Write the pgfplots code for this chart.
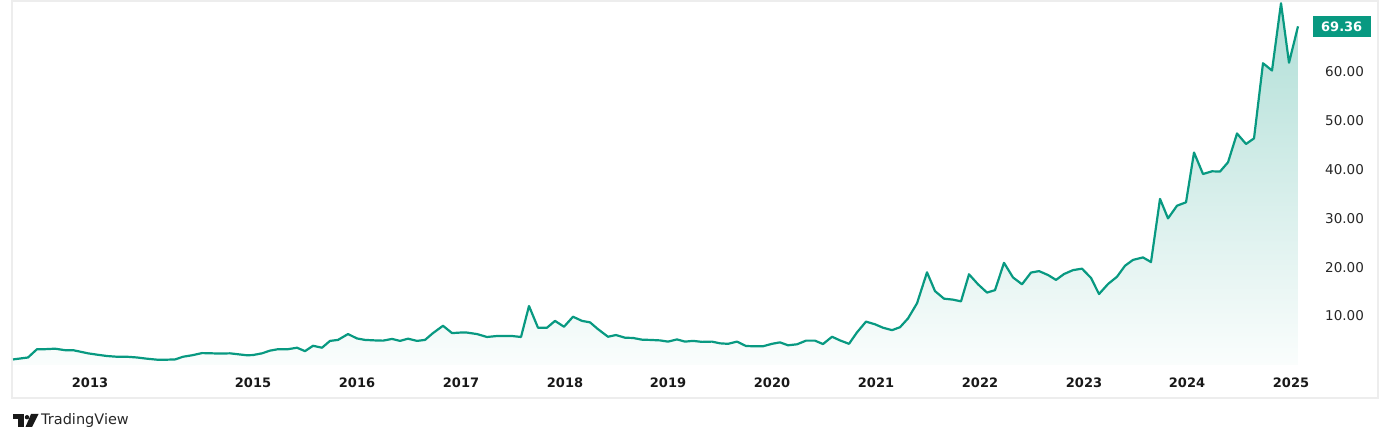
\documentclass[border=0pt]{standalone}
\usepackage{pgfplots}
\usepackage{pgfplotstable}
\pgfplotsset{compat=1.18}
\usepackage{fontspec}
\setmainfont{DejaVu Sans}
\definecolor{tvgreen}{HTML}{089981}
\definecolor{framegray}{HTML}{EDEDED}

\pgfplotstableread{
x y
13 1.1
28 1.5
37 3.2
45 3.2
55 3.3
65 3.0
73 3.0
80 2.7
88 2.35
98 2.05
107 1.8
117 1.65
127 1.65
137 1.5
147 1.25
157 1.05
167 1.05
175 1.1
183 1.65
192 1.95
202 2.4
212 2.35
220 2.3
230 2.35
247 1.95
253 2.0
262 2.35
270 2.9
278 3.2
288 3.2
297 3.5
305 2.8
313 3.9
322 3.5
330 4.9
338 5.1
348 6.3
357 5.4
365 5.1
375 5.0
383 4.95
392 5.3
400 4.9
408 5.35
417 4.9
425 5.1
433 6.5
443 8.0
452 6.5
460 6.6
467 6.6
477 6.3
487 5.7
497 5.9
512 5.9
521 5.7
529 12.05
538 7.6
547 7.6
555 9.0
564 7.8
573 9.85
582 9.0
590 8.7
598 7.3
608 5.75
616 6.1
625 5.55
633 5.5
642 5.15
650 5.1
660 5.0
668 4.75
677 5.2
685 4.75
693 4.9
702 4.7
712 4.75
720 4.4
728 4.3
737 4.75
746 3.85
754 3.8
763 3.8
772 4.3
780 4.6
788 4.0
797 4.2
806 4.95
815 4.95
823 4.25
832 5.75
840 5.0
849 4.3
857 6.65
866 8.85
875 8.3
883 7.6
892 7.1
900 7.7
908 9.5
917 12.6
927 18.95
935 15.1
944 13.55
953 13.35
961 13.0
969 18.55
978 16.5
987 14.8
995 15.3
1004 20.9
1013 17.9
1022 16.5
1031 18.9
1039 19.2
1048 18.4
1056 17.4
1064 18.6
1073 19.4
1082 19.7
1091 17.8
1099 14.5
1108 16.55
1117 18.05
1125 20.3
1133 21.5
1143 22.0
1151 21.05
1160 34.0
1168 30.0
1177 32.6
1186 33.3
1194 43.5
1203 39.1
1212 39.65
1220 39.6
1228 41.5
1237 47.4
1246 45.25
1254 46.4
1263 61.8
1272 60.3
1281 74.1
1289 61.9
1298 69.36
}\pricedata

\begin{document}
\begin{tikzpicture}[x=1pt,y=1pt]
\useasboundingbox (0,0) rectangle (1391,444);
\draw[framegray, line width=1.5pt] (12,443) rectangle (1378,46);
\begin{axis}[
  at={(12pt,72pt)}, anchor=south west,
  scale only axis, width=1298pt, height=371pt,
  xmin=12, xmax=1310, ymin=-1.475, ymax=74.55,
  axis line style={draw=none},
  tick style={draw=none},
  major tick length=0pt,
  xtick={90,253,357,461,565,668,772,876,980,1084,1187,1291},
  xticklabels={2013,2015,2016,2017,2018,2019,2020,2021,2022,2023,2024,2025},
  xticklabel style={font=\bfseries\fontsize{13}{15}\selectfont, anchor=center, yshift=-11pt, inner sep=0pt, text=black!90},
  ytick={10,20,30,40,50,60},
  yticklabels={10.00,20.00,30.00,40.00,50.00,60.00},
  yticklabel pos=right,
  yticklabel style={font=\fontsize{13.5}{15}\selectfont, anchor=west, inner sep=0pt, xshift=15pt, text=black!85},
  clip=false,
]
\addplot[draw=none, top color=tvgreen!32!white, bottom color=tvgreen!2!white] table[x=x,y=y] {\pricedata} \closedcycle;
\addplot[tvgreen, line width=2.2pt, line join=round] table[x=x,y=y] {\pricedata};
\node[fill=tvgreen, text=white, inner sep=0pt, minimum width=58pt, minimum height=20.5pt, font=\bfseries\fontsize{13}{15}\selectfont] at (axis cs:1341.7,69.36) {69.36};
\end{axis}
% TradingView logo
\fill[black!90] (12.5,30) rectangle (24,24.5);
\fill[black!90] (18,30) rectangle (24,17);
\fill[black!90] (27,26.8) circle (2.2);
\fill[black!90] (31,30) -- (38.5,30) -- (32,17) -- (25.5,17) -- cycle;
\node[anchor=west, inner sep=0pt, font=\fontsize{14.5}{16}\selectfont, text=black!85] at (41,23) {TradingView};
\end{tikzpicture}
\end{document}
